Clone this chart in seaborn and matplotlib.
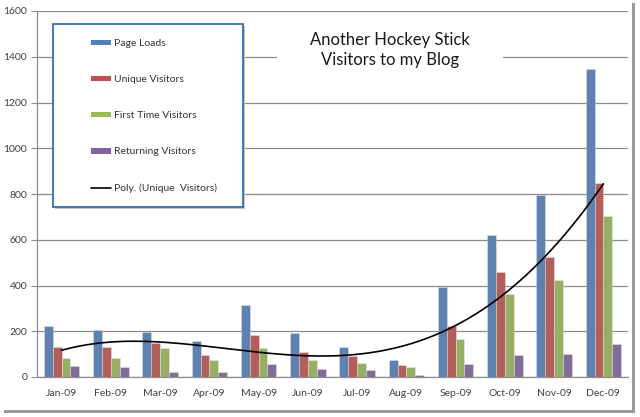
import numpy as np
import pandas as pd
import matplotlib
matplotlib.use("Agg")
import matplotlib.pyplot as plt
from matplotlib.patches import Rectangle, Patch
from matplotlib.lines import Line2D
import seaborn as sns

# adatok
months = ['Jan-09', 'Feb-09', 'Mar-09', 'Apr-09', 'May-09', 'Jun-09',
          'Jul-09', 'Aug-09', 'Sep-09', 'Oct-09', 'Nov-09', 'Dec-09']
page_loads = [224, 207, 198, 157, 316, 193, 133, 73, 393, 621, 797, 1348]
unique_visitors = [132, 130, 150, 97, 182, 111, 93, 51, 223, 459, 526, 846]
first_time = [83, 83, 127, 76, 127, 76, 62, 43, 166, 365, 424, 705]
returning = [49, 44, 20, 20, 58, 34, 30, 8, 55, 94, 102, 144]

series_names = ['Page Loads', 'Unique Visitors', 'First Time Visitors', 'Returning Visitors']
colors = ['#4F81BD', '#C0504D', '#9BBB59', '#8064A2']

df = pd.DataFrame({
    'month': months * 4,
    'series': sum([[s] * 12 for s in series_names], []),
    'value': page_loads + unique_visitors + first_time + returning,
})

sns.set_style('white')
plt.rcParams['font.family'] = ['Lato', 'DejaVu Sans']

fig = plt.figure(figsize=(6.4, 4.17), dpi=100)
ax = fig.add_axes([37 / 640, 1 - 377 / 417, (628 - 37) / 640, (377 - 11) / 417])

sns.barplot(data=df, x='month', y='value', hue='series', palette=colors,
            width=0.72, ax=ax, legend=False, linewidth=0.6, edgecolor='#ffffff55')

# polinomiális trendvonal (Excel-szerű) az egyedi látogatókra
xs = np.arange(1, 13)
coef = np.polyfit(xs, unique_visitors, 4)
xx = np.linspace(1, 12, 200)
ax.plot(xx - 1, np.polyval(coef, xx), color='black', lw=1.2, zorder=5)

ax.set_xlim(-0.5, 11.5)
ax.set_ylim(0, 1600)
ax.set_yticks(range(0, 1601, 200))
ax.yaxis.grid(True, color='#8c8c8c', lw=0.9)
ax.set_axisbelow(True)
ax.set_xlabel('')
ax.set_ylabel('')
for s in ['top', 'right']:
    ax.spines[s].set_visible(False)
for s in ['left', 'bottom']:
    ax.spines[s].set_color('#8c8c8c')
    ax.spines[s].set_linewidth(0.9)

ax.set_xticks(np.arange(-0.5, 12, 1), minor=True)
ax.tick_params(axis='x', which='major', length=0, pad=9, labelsize=7.5, labelcolor='#404040')
ax.tick_params(axis='x', which='minor', length=4, color='#8c8c8c', direction='out')
ax.tick_params(axis='y', length=4, color='#8c8c8c', direction='out', labelsize=7.5,
               labelcolor='#404040', pad=3, left=True)

# cím fehér háttérrel
fig.patches.append(Rectangle((277 / 640, 1 - 76 / 417), 226 / 640, 52 / 417,
                             transform=fig.transFigure, facecolor='white',
                             edgecolor='none', zorder=2))
fig.text(390 / 640, 1 - 50 / 417, 'Another Hockey Stick\nVisitors to my Blog',
         ha='center', va='center', fontsize=12, color='#1a1a1a', linespacing=1.25,
         zorder=3)

# jelmagyarázat doboz
fig.patches.append(Rectangle((55 / 640, 1 - 209 / 417), 190 / 640, 183 / 417,
                             transform=fig.transFigure, facecolor='#c4c4c4',
                             edgecolor='none', zorder=3))
fig.patches.append(Rectangle((53 / 640, 1 - 207 / 417), 190 / 640, 183 / 417,
                             transform=fig.transFigure, facecolor='white',
                             edgecolor='#2f6db5', lw=1.3, zorder=4))
handles = [Patch(facecolor=c, edgecolor='none') for c in colors]
handles.append(Line2D([0], [0], color='black', lw=1.2))
labels = series_names + ['Poly. (Unique  Visitors)']
fig.legend(handles, labels, loc='upper left', bbox_to_anchor=(86 / 640, 1 - 34 / 417),
           frameon=False, fontsize=7.5, labelspacing=2.6, handlelength=1.9,
           handleheight=0.45, handletextpad=0.3, borderpad=0, labelcolor='#333333')

# külső keret árnyékkal
fig.patches.append(Rectangle((632 / 640, 4 / 417), 3 / 640, 410 / 417,
                             transform=fig.transFigure, facecolor='#9a9a9a', edgecolor='none'))
fig.patches.append(Rectangle((4 / 640, 4 / 417), 631 / 640, 3 / 417,
                             transform=fig.transFigure, facecolor='#9a9a9a', edgecolor='none'))

fig.savefig('out.png', dpi=100)
